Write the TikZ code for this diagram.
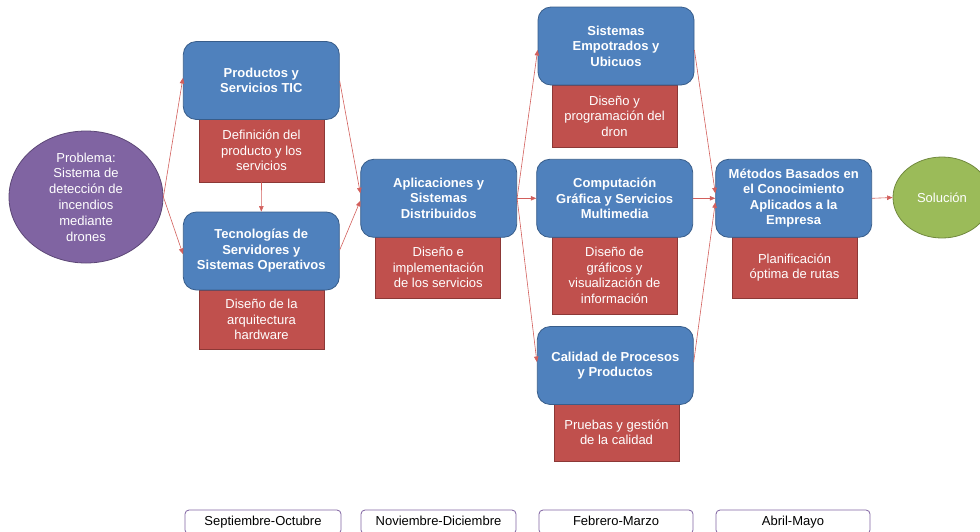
\documentclass[tikz,border=0pt]{standalone}
\usepackage{fontspec}
\setmainfont{Liberation Sans}
\usetikzlibrary{arrows.meta,shapes.geometric}
\definecolor{bluef}{HTML}{4F81BD}
\definecolor{blued}{HTML}{385D8A}
\definecolor{redf}{HTML}{C0504D}
\definecolor{redd}{HTML}{8C3836}
\definecolor{purf}{HTML}{8064A2}
\definecolor{purd}{HTML}{5C4776}
\definecolor{grnf}{HTML}{9BBB59}
\definecolor{grnd}{HTML}{71893F}
\definecolor{arrc}{RGB}{210,95,92}
\tikzset{
  bluebox/.style={draw=blued, fill=bluef, line width=0.8pt, rounded corners=13pt,
    minimum width=156pt, minimum height=78pt, text=white, align=center, inner sep=2pt,
    font=\fontsize{13}{15.5}\selectfont\bfseries},
  redbox/.style={draw=redd, fill=redf, line width=0.8pt, minimum width=125pt,
    text=white, align=center, inner sep=2pt, font=\fontsize{13}{15.5}\selectfont},
  periodbox/.style={draw=purf, fill=white, line width=0.8pt, rounded corners=4pt,
    minimum width=156pt, minimum height=24pt, text height=9.4pt, text depth=2.6pt,
    font=\fontsize{13}{15}\selectfont},
  conn/.style={draw=arrc, line width=0.6pt, -{Triangle[length=5.5pt,width=4.5pt]}}
}
\begin{document}
\begin{tikzpicture}[x=1pt,y=-1pt]
\useasboundingbox (0,0) rectangle (980,531);
\begin{scope}
\clip (0,0) rectangle (980,531);
% red boxes (behind)
\node[redbox, minimum height=63pt] (defi) at (261.5,150.5) {Definición del\\producto y los\\servicios};
\node[redbox, minimum height=59pt] (arq) at (261.5,319.5) {Diseño de la\\arquitectura\\hardware};
\node[redbox, minimum height=61pt] (disimp) at (438.3,267.5) {Diseño e\\implementación\\de los servicios};
\node[redbox, minimum height=62pt] (dron) at (614.5,116) {Diseño y\\programación del\\dron};
\node[redbox, minimum height=77pt] (graf) at (614.5,275.5) {Diseño de\\gráficos y\\visualización de\\información};
\node[redbox, minimum height=57pt] (pruebas) at (616.5,432.5) {Pruebas y gestión\\de la calidad};
\node[redbox, minimum height=61pt] (rutas) at (794.5,267.5) {Planificación\\óptima de rutas};
% blue boxes
\node[bluebox] (prod) at (261.3,80.5) {Productos y\\Servicios TIC};
\node[bluebox] (tec) at (261.3,251) {Tecnologías de\\Servidores y\\Sistemas Operativos};
\node[bluebox] (apl) at (438.7,198.3) {Aplicaciones y\\Sistemas\\Distribuidos};
\node[bluebox] (emp) at (616,46) {Sistemas\\Empotrados y\\Ubicuos};
\node[bluebox] (comp) at (614.7,198.3) {Computación\\Gráfica y Servicios\\Multimedia};
\node[bluebox] (cal) at (615.3,365.5) {Calidad de Procesos\\y Productos};
\node[bluebox] (met) at (793.7,198.3) {Métodos Basados en\\el Conocimiento\\Aplicados a la\\Empresa};
% ellipses
\node[ellipse, draw=purd, fill=purf, line width=0.8pt, minimum width=154pt, minimum height=132pt,
  inner sep=0pt, text=white, align=center, font=\fontsize{13}{15.8}\selectfont] (prob) at (86,197)
  {Problema:\\Sistema de\\detección de\\incendios\\mediante\\drones};
\node[ellipse, draw=grnd, fill=grnf, line width=0.8pt, minimum width=98pt, minimum height=81pt,
  inner sep=0pt, text=white, font=\fontsize{13}{15.5}\selectfont] (sol) at (942,197.5) {Solución};
% period boxes
\node[periodbox] (p1) at (263,522) {Septiembre-Octubre};
\node[periodbox, minimum width=155pt] (p2) at (438.5,522) {Noviembre-Diciembre};
\node[periodbox, minimum width=154pt] (p3) at (616,522) {Febrero-Marzo};
\node[periodbox, minimum width=154pt] (p4) at (793,522) {Abril-Mayo};
\end{scope}
% connectors
\draw[conn] (prob.east) -- ([yshift=2.5pt]prod.west);
\draw[conn] (prob.east) -- ([yshift=-3pt]tec.west);
\draw[conn] (defi.south) -- (tec.north);
\draw[conn] ([yshift=-0.5pt]prod.east) -- ([yshift=5pt]apl.west);
\draw[conn] ([yshift=1pt]tec.east) -- ([yshift=-2.5pt]apl.west);
\draw[conn] (apl.east) -- ([yshift=-4pt]emp.west);
\draw[conn] (apl.east) -- (comp.west);
\draw[conn] (apl.east) -- ([yshift=3.5pt]cal.west);
\draw[conn] ([yshift=-4pt]emp.east) -- ([yshift=5pt]met.west);
\draw[conn] (comp.east) -- (met.west);
\draw[conn] ([yshift=3.5pt]cal.east) -- ([yshift=-4pt]met.west);
\draw[conn] (met.east) -- (sol.west);
\end{tikzpicture}
\end{document}
